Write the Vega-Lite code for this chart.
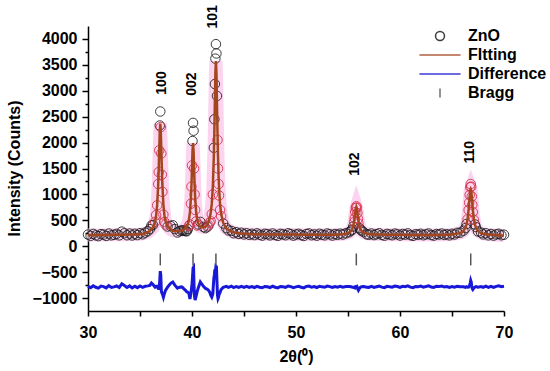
{
"$schema": "https://vega.github.io/schema/vega-lite/v6.json",
"width": 416, "height": 285,
"autosize": {"type": "none"},
"padding": {"left": 88, "top": 26, "right": 46, "bottom": 60},
"background": "white",
"config": {
 "view": {"stroke": null},
 "font": "Liberation Sans",
 "axis": {"domainColor": "black", "domainWidth": 1.5, "tickColor": "black", "tickWidth": 1.5, "grid": false,
  "labelFont": "Liberation Sans", "labelFontWeight": "bold", "labelFontSize": 16, "labelColor": "black",
  "titleFont": "Liberation Sans", "titleFontWeight": "bold", "titleFontSize": 16, "titleColor": "black",
  "labelOverlap": false, "labelFlush": false}
},
"datasets": {
 "xrd": [
{"x":30,"fit":215,"obs":225,"diff":-775},
{"x":30.25,"fit":216,"obs":200,"diff":-801},
{"x":30.5,"fit":216,"obs":238,"diff":-763},
{"x":30.75,"fit":217,"obs":210,"diff":-792},
{"x":31,"fit":218,"obs":195,"diff":-808},
{"x":31.25,"fit":218,"obs":233,"diff":-770},
{"x":31.5,"fit":219,"obs":224,"diff":-780},
{"x":31.75,"fit":219,"obs":199,"diff":-805},
{"x":32,"fit":220,"obs":245,"diff":-760},
{"x":32.25,"fit":220,"obs":210,"diff":-795},
{"x":32.5,"fit":221,"obs":221,"diff":-785},
{"x":32.75,"fit":221,"obs":239,"diff":-767},
{"x":33,"fit":222,"obs":210,"diff":-797},
{"x":33.25,"fit":222,"obs":282,"diff":-725},
{"x":33.5,"fit":223,"obs":250,"diff":-758},
{"x":33.75,"fit":224,"obs":212,"diff":-797},
{"x":34,"fit":225,"obs":245,"diff":-765},
{"x":34.25,"fit":226,"obs":208,"diff":-803},
{"x":34.5,"fit":228,"obs":240,"diff":-773},
{"x":34.75,"fit":230,"obs":215,"diff":-800},
{"x":35,"fit":233,"obs":250,"diff":-768},
{"x":35.25,"fit":238,"obs":230,"diff":-793},
{"x":35.5,"fit":250,"obs":262,"diff":-773},
{"x":35.75,"fit":270,"obs":290,"diff":-765},
{"x":35.95,"fit":299,"obs":330,"diff":-755},
{"x":36.1,"fit":330,"obs":400,"diff":-712},
{"x":36.25,"fit":362,"obs":410,"diff":-740},
{"x":36.45,"fit":478,"obs":470,"diff":-790},
{"x":36.55,"fit":591,"obs":600,"diff":-775},
{"x":36.65,"fit":797,"obs":790,"diff":-790},
{"x":36.75,"fit":1185,"obs":1200,"diff":-770},
{"x":36.8,"fit":1490,"obs":1430,"diff":-840},
{"x":36.85,"fit":1860,"obs":1850,"diff":-795},
{"x":36.9,"fit":2210,"obs":2330,"diff":-665},
{"x":36.95,"fit":2365,"obs":2600,"diff":-480},
{"x":37,"fit":2212,"obs":2300,"diff":-560},
{"x":37.05,"fit":1862,"obs":1790,"diff":-860},
{"x":37.1,"fit":1492,"obs":1380,"diff":-900},
{"x":37.15,"fit":1187,"obs":1050,"diff":-920},
{"x":37.25,"fit":800,"obs":610,"diff":-985},
{"x":37.35,"fit":595,"obs":470,"diff":-910},
{"x":37.45,"fit":490,"obs":420,"diff":-855},
{"x":37.65,"fit":384,"obs":380,"diff":-790},
{"x":37.95,"fit":321,"obs":390,"diff":-715},
{"x":38.15,"fit":300,"obs":405,"diff":-690},
{"x":38.35,"fit":295,"obs":330,"diff":-750},
{"x":38.6,"fit":290,"obs":265,"diff":-810},
{"x":38.8,"fit":295,"obs":290,"diff":-790},
{"x":39,"fit":305,"obs":305,"diff":-785},
{"x":39.1,"fit":313,"obs":305,"diff":-795},
{"x":39.25,"fit":330,"obs":300,"diff":-830},
{"x":39.4,"fit":355,"obs":290,"diff":-855},
{"x":39.5,"fit":385,"obs":290,"diff":-880},
{"x":39.6,"fit":429,"obs":330,"diff":-890},
{"x":39.7,"fit":506,"obs":390,"diff":-905},
{"x":39.8,"fit":649,"obs":420,"diff":-1020},
{"x":39.9,"fit":940,"obs":820,"diff":-910},
{"x":39.95,"fit":1185,"obs":1150,"diff":-820},
{"x":40,"fit":1507,"obs":1560,"diff":-730},
{"x":40.05,"fit":1837,"obs":2030,"diff":-590},
{"x":40.1,"fit":1990,"obs":2380,"diff":-420},
{"x":40.15,"fit":1839,"obs":2230,"diff":-405},
{"x":40.2,"fit":1509,"obs":1500,"diff":-800},
{"x":40.25,"fit":1188,"obs":1000,"diff":-975},
{"x":40.3,"fit":945,"obs":700,"diff":-1040},
{"x":40.4,"fit":656,"obs":480,"diff":-960},
{"x":40.5,"fit":515,"obs":400,"diff":-870},
{"x":40.6,"fit":442,"obs":420,"diff":-805},
{"x":40.8,"fit":378,"obs":470,"diff":-690},
{"x":41.1,"fit":361,"obs":370,"diff":-775},
{"x":41.3,"fit":378,"obs":350,"diff":-815},
{"x":41.5,"fit":430,"obs":380,"diff":-835},
{"x":41.6,"fit":470,"obs":400,"diff":-855},
{"x":41.7,"fit":550,"obs":450,"diff":-885},
{"x":41.8,"fit":642,"obs":480,"diff":-945},
{"x":41.9,"fit":816,"obs":620,"diff":-980},
{"x":42,"fit":1137,"obs":1000,"diff":-920},
{"x":42.1,"fit":1740,"obs":1900,"diff":-625},
{"x":42.15,"fit":2215,"obs":2450,"diff":-550},
{"x":42.2,"fit":2791,"obs":3130,"diff":-445},
{"x":42.25,"fit":3336,"obs":3620,"diff":-500},
{"x":42.3,"fit":3575,"obs":3900,"diff":-390},
{"x":42.35,"fit":3335,"obs":3720,"diff":-400},
{"x":42.4,"fit":2790,"obs":2900,"diff":-675},
{"x":42.45,"fit":2212,"obs":2050,"diff":-945},
{"x":42.5,"fit":1736,"obs":1500,"diff":-1010},
{"x":42.55,"fit":1384,"obs":1200,"diff":-985},
{"x":42.6,"fit":1130,"obs":980,"diff":-935},
{"x":42.7,"fit":806,"obs":700,"diff":-890},
{"x":42.8,"fit":629,"obs":580,"diff":-835},
{"x":43,"fit":450,"obs":440,"diff":-795},
{"x":43.3,"fit":342,"obs":350,"diff":-775},
{"x":43.5,"fit":320,"obs":305,"diff":-795},
{"x":43.8,"fit":280,"obs":295,"diff":-770},
{"x":44,"fit":270,"obs":250,"diff":-799},
{"x":44.25,"fit":258,"obs":270,"diff":-777},
{"x":44.5,"fit":250,"obs":238,"diff":-793},
{"x":44.75,"fit":244,"obs":260,"diff":-774},
{"x":45,"fit":240,"obs":228,"diff":-793},
{"x":45.25,"fit":237,"obs":250,"diff":-776},
{"x":45.5,"fit":235,"obs":220,"diff":-796},
{"x":45.75,"fit":233,"obs":240,"diff":-780},
{"x":46,"fit":232,"obs":215,"diff":-797},
{"x":46.25,"fit":231,"obs":248,"diff":-773},
{"x":46.5,"fit":230,"obs":222,"diff":-791},
{"x":46.75,"fit":229,"obs":205,"diff":-802},
{"x":47,"fit":228,"obs":240,"diff":-777},
{"x":47.25,"fit":228,"obs":232,"diff":-782},
{"x":47.5,"fit":227,"obs":210,"diff":-797},
{"x":47.75,"fit":227,"obs":245,"diff":-772},
{"x":48,"fit":226,"obs":218,"diff":-791},
{"x":48.25,"fit":226,"obs":200,"diff":-803},
{"x":48.5,"fit":226,"obs":238,"diff":-777},
{"x":48.75,"fit":225,"obs":228,"diff":-783},
{"x":49,"fit":225,"obs":212,"diff":-794},
{"x":49.25,"fit":225,"obs":250,"diff":-768},
{"x":49.5,"fit":224,"obs":232,"diff":-779},
{"x":49.75,"fit":224,"obs":205,"diff":-798},
{"x":50,"fit":224,"obs":226,"diff":-784},
{"x":50.25,"fit":223,"obs":240,"diff":-773},
{"x":50.5,"fit":223,"obs":215,"diff":-791},
{"x":50.75,"fit":223,"obs":198,"diff":-803},
{"x":51,"fit":222,"obs":236,"diff":-775},
{"x":51.25,"fit":222,"obs":246,"diff":-768},
{"x":51.5,"fit":222,"obs":212,"diff":-792},
{"x":51.75,"fit":221,"obs":228,"diff":-780},
{"x":52,"fit":221,"obs":204,"diff":-797},
{"x":52.25,"fit":221,"obs":240,"diff":-772},
{"x":52.5,"fit":221,"obs":222,"diff":-784},
{"x":52.75,"fit":220,"obs":210,"diff":-792},
{"x":53,"fit":220,"obs":245,"diff":-768},
{"x":53.25,"fit":221,"obs":230,"diff":-779},
{"x":53.5,"fit":222,"obs":206,"diff":-796},
{"x":53.75,"fit":223,"obs":235,"diff":-777},
{"x":54,"fit":225,"obs":220,"diff":-789},
{"x":54.25,"fit":228,"obs":242,"diff":-775},
{"x":54.5,"fit":232,"obs":226,"diff":-789},
{"x":54.8,"fit":241,"obs":250,"diff":-778},
{"x":55.1,"fit":261,"obs":270,"diff":-779},
{"x":55.3,"fit":295,"obs":300,"diff":-782},
{"x":55.4,"fit":328,"obs":320,"diff":-791},
{"x":55.5,"fit":386,"obs":380,"diff":-790},
{"x":55.6,"fit":490,"obs":470,"diff":-800},
{"x":55.65,"fit":566,"obs":540,"diff":-805},
{"x":55.7,"fit":652,"obs":660,"diff":-780},
{"x":55.75,"fit":728,"obs":740,"diff":-776},
{"x":55.8,"fit":760,"obs":770,"diff":-778},
{"x":55.85,"fit":728,"obs":745,"diff":-773},
{"x":55.9,"fit":652,"obs":640,"diff":-800},
{"x":55.95,"fit":566,"obs":530,"diff":-830},
{"x":56,"fit":490,"obs":440,"diff":-850},
{"x":56.1,"fit":386,"obs":350,"diff":-815},
{"x":56.2,"fit":328,"obs":320,"diff":-790},
{"x":56.3,"fit":295,"obs":300,"diff":-782},
{"x":56.5,"fit":261,"obs":272,"diff":-777},
{"x":56.8,"fit":241,"obs":230,"diff":-793},
{"x":57,"fit":235,"obs":222,"diff":-794},
{"x":57.25,"fit":231,"obs":245,"diff":-775},
{"x":57.5,"fit":228,"obs":215,"diff":-794},
{"x":57.75,"fit":226,"obs":232,"diff":-781},
{"x":58,"fit":225,"obs":250,"diff":-768},
{"x":58.25,"fit":224,"obs":218,"diff":-789},
{"x":58.5,"fit":223,"obs":203,"diff":-799},
{"x":58.75,"fit":222,"obs":238,"diff":-774},
{"x":59,"fit":222,"obs":226,"diff":-782},
{"x":59.25,"fit":221,"obs":212,"diff":-791},
{"x":59.5,"fit":221,"obs":244,"diff":-769},
{"x":59.75,"fit":220,"obs":230,"diff":-778},
{"x":60,"fit":220,"obs":206,"diff":-795},
{"x":60.25,"fit":220,"obs":236,"diff":-774},
{"x":60.5,"fit":220,"obs":224,"diff":-782},
{"x":60.75,"fit":219,"obs":248,"diff":-765},
{"x":61,"fit":219,"obs":214,"diff":-789},
{"x":61.25,"fit":219,"obs":200,"diff":-798},
{"x":61.5,"fit":219,"obs":232,"diff":-776},
{"x":61.75,"fit":218,"obs":222,"diff":-782},
{"x":62,"fit":218,"obs":240,"diff":-770},
{"x":62.25,"fit":218,"obs":212,"diff":-789},
{"x":62.5,"fit":218,"obs":230,"diff":-777},
{"x":62.75,"fit":218,"obs":246,"diff":-765},
{"x":63,"fit":218,"obs":216,"diff":-786},
{"x":63.25,"fit":218,"obs":204,"diff":-795},
{"x":63.5,"fit":218,"obs":236,"diff":-772},
{"x":63.75,"fit":218,"obs":226,"diff":-779},
{"x":64,"fit":219,"obs":245,"diff":-767},
{"x":64.25,"fit":220,"obs":218,"diff":-786},
{"x":64.5,"fit":222,"obs":232,"diff":-778},
{"x":64.75,"fit":224,"obs":210,"diff":-795},
{"x":65,"fit":228,"obs":240,"diff":-777},
{"x":65.25,"fit":234,"obs":226,"diff":-791},
{"x":65.5,"fit":243,"obs":258,"diff":-775},
{"x":65.8,"fit":256,"obs":262,"diff":-781},
{"x":66.1,"fit":296,"obs":300,"diff":-782},
{"x":66.3,"fit":361,"obs":350,"diff":-793},
{"x":66.4,"fit":424,"obs":430,"diff":-781},
{"x":66.5,"fit":530,"obs":520,"diff":-792},
{"x":66.6,"fit":708,"obs":700,"diff":-790},
{"x":66.65,"fit":830,"obs":840,"diff":-775},
{"x":66.7,"fit":961,"obs":990,"diff":-750},
{"x":66.75,"fit":1071,"obs":1140,"diff":-710},
{"x":66.8,"fit":1100,"obs":1200,"diff":-660},
{"x":66.85,"fit":1071,"obs":1150,"diff":-690},
{"x":66.9,"fit":961,"obs":960,"diff":-780},
{"x":66.95,"fit":830,"obs":800,"diff":-820},
{"x":67,"fit":708,"obs":660,"diff":-835},
{"x":67.1,"fit":530,"obs":510,"diff":-805},
{"x":67.2,"fit":424,"obs":420,"diff":-790},
{"x":67.3,"fit":360,"obs":370,"diff":-778},
{"x":67.5,"fit":294,"obs":285,"diff":-791},
{"x":67.8,"fit":252,"obs":262,"diff":-778},
{"x":68,"fit":240,"obs":228,"diff":-793},
{"x":68.25,"fit":232,"obs":250,"diff":-772},
{"x":68.5,"fit":226,"obs":210,"diff":-796},
{"x":68.75,"fit":221,"obs":236,"diff":-775},
{"x":69,"fit":217,"obs":205,"diff":-793},
{"x":69.25,"fit":214,"obs":230,"diff":-774},
{"x":69.5,"fit":211,"obs":240,"diff":-765},
{"x":69.75,"fit":208,"obs":212,"diff":-782},
{"x":70,"fit":205,"obs":222,"diff":-773}
 ],
 "bragg": [
  {"x":36.95,"value":-140,"value2":-370},
  {"x":40.1,"value":-140,"value2":-370},
  {"x":42.3,"value":-140,"value2":-370},
  {"x":55.8,"value":-140,"value2":-370},
  {"x":66.8,"value":-140,"value2":-370}
 ],
 "labels": [
  {"hkl":"100","x":37.1,"value":3150},
  {"hkl":"002","x":39.97,"value":3130},
  {"hkl":"101","x":42.05,"value":4425},
  {"hkl":"102","x":55.67,"value":1585},
  {"hkl":"110","x":66.73,"value":1815}
 ]
},
"data": {"name": "xrd"},
"encoding": {
 "x": {"field": "x", "type": "quantitative", "scale": {"domain": [30, 70], "nice": false, "zero": false},
  "axis": {"title": "2θ(⁰)", "values": [30,35,40,45,50,55,60,65,70], "format": "d",
   "labelExpr": "datum.value % 10 === 0 ? datum.label : ''", "tickSize": 5, "labelPadding": 8,
   "titleY": 45, "titleBaseline": "middle"}},
 "y": {"field": "value", "type": "quantitative", "scale": {"domain": [-1250, 4250], "nice": false, "zero": false},
  "axis": {"title": "Intensity (Counts)", "values": [-1000,-750,-500,-250,0,250,500,750,1000,1250,1500,1750,2000,2250,2500,2750,3000,3250,3500,3750,4000],
   "format": "d", "labelExpr": "datum.value % 500 === 0 ? datum.label : ''",
   "tickSize": {"condition": {"test": "datum.value % 500 === 0", "value": 6}, "value": 3},
   "labelPadding": 5, "titleX": -74, "titleY": 142, "titleAlign": "center", "titleBaseline": "middle", "titleAngle": 270}}
},
"layer": [
 {"transform": [{"fold": ["fit"], "as": ["key", "value"]}],
  "mark": {"type": "line", "stroke": "#fbc9ec", "strokeWidth": 13, "opacity": 0.8, "interpolate": "linear"}},
 {"transform": [{"filter": "datum.fit <= 450 || datum.obs > datum.fit + 100"}, {"fold": ["obs"], "as": ["key", "value"]}],
  "mark": {"type": "point", "filled": false, "size": 90, "strokeWidth": 1, "opacity": 0.85},
  "encoding": {
   "color": {"datum": "ZnO", "scale": {"domain": ["ZnO", "FItting", "Difference", "Bragg"], "range": ["#1a1a1a", "#a3461d", "#1818d8", "#555555"]},
    "legend": {"title": null, "orient": "none", "legendX": 344, "legendY": 2, "labelFont": "Liberation Sans", "labelFontWeight": "bold", "labelFontSize": 16, "labelColor": "black",
     "symbolSize": 80, "labelOffset": 20, "rowPadding": 3, "symbolStrokeWidth": 1.5,
     "encode": {"symbols": {"update": {"fill": {"value": "transparent"}}}}}},
   "shape": {"datum": "ZnO", "scale": {"domain": ["ZnO", "FItting", "Difference", "Bragg"], "range": ["circle", "M-4.6,0L4.6,0", "M-4.6,0L4.6,0", "M0,-1L0,1"]}}
  }},
 {"transform": [{"filter": "datum.fit > 450 && datum.obs <= datum.fit + 100"}, {"fold": ["obs"], "as": ["key", "value"]}],
  "mark": {"type": "point", "filled": false, "size": 90, "strokeWidth": 1, "stroke": "#d8324c", "opacity": 0.9}},
 {"transform": [{"fold": ["fit"], "as": ["key", "value"]}],
  "mark": {"type": "line", "strokeWidth": 2.5},
  "encoding": {"color": {"datum": "FItting"}}},
 {"transform": [{"fold": ["diff"], "as": ["key", "value"]}],
  "mark": {"type": "line", "strokeWidth": 3},
  "encoding": {"color": {"datum": "Difference"}}},
 {"data": {"name": "bragg"},
  "mark": {"type": "rule", "strokeWidth": 1.5},
  "encoding": {"y2": {"field": "value2"}, "color": {"datum": "Bragg"}}},
 {"data": {"name": "labels"},
  "mark": {"type": "text", "angle": 270, "align": "center", "baseline": "middle", "font": "Liberation Sans", "fontWeight": "bold", "fontSize": 14, "color": "black"},
  "encoding": {"text": {"field": "hkl"}}}
]
}
